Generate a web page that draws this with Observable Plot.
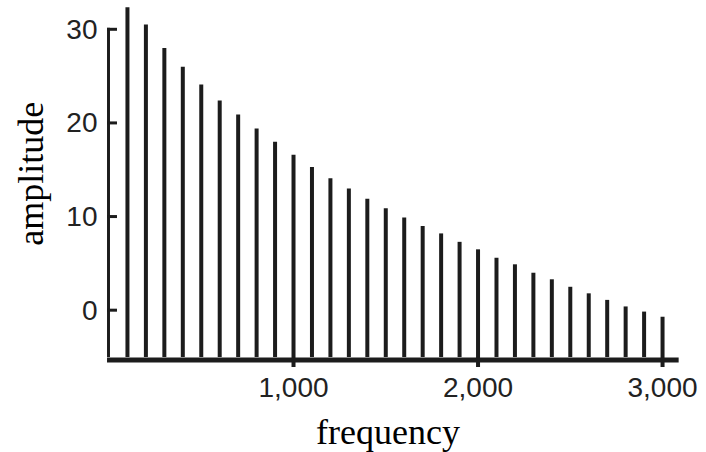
<!DOCTYPE html>
<html><head><meta charset="utf-8">
<script src="https://cdn.jsdelivr.net/npm/d3@7"></script>
<script src="https://cdn.jsdelivr.net/npm/@observablehq/plot@0.6"></script>
<style>body{margin:0;background:#fff;}</style>
</head><body><div id="chart"></div>
<script>
const frequency = [100,200,300,400,500,600,700,800,900,1000,1100,1200,1300,1400,1500,1600,1700,1800,1900,2000,2100,2200,2300,2400,2500,2600,2700,2800,2900,3000];
const amplitude = [32.35,30.5,28.0,26.0,24.1,22.4,20.9,19.4,18.0,16.6,15.3,14.1,13.0,11.9,10.9,9.9,9.0,8.2,7.3,6.5,5.6,4.9,4.0,3.3,2.5,1.8,1.1,0.4,-0.15,-0.7];
const yTicks = [0,10,20,30];
const xTicks = [1000,2000,3000];
const xLabel = "frequency";
const yLabel = "amplitude";

const data = frequency.map((f, i) => ({frequency: f, amplitude: amplitude[i]}));
const ink = "#1c1c1c";

const chart = Plot.plot({
  width: 706, height: 452,
  marginLeft: 108.5, marginRight: 25.5, marginTop: 29.3, marginBottom: 95,
  x: {domain: [0, 3100]},
  y: {domain: [-5, 30]},
  style: {background: "#fff", color: "#222", fontFamily: "'Liberation Sans', Arial, sans-serif", fontSize: "28px"},
  marks: [
    Plot.ruleX(data, {x: "frequency", y1: -5, y2: "amplitude", stroke: ink, strokeWidth: 4}),
    Plot.axisX(xTicks, {anchor: "bottom", tickSize: 10, tickPadding: 10, strokeWidth: 4, stroke: ink, tickFormat: d3.format(","), label: null}),
    Plot.axisY(yTicks, {anchor: "left", tickSize: 0, tickPadding: 11.5, label: null}),
    // left axis line and inward ticks as filled rects
    Plot.rect([0], {x1: -8, x2: 8, y1: -5, y2: 30.16, fill: ink}),
    Plot.rect(yTicks, {x1: -8, x2: 46, y1: d => d - 0.16, y2: d => d + 0.16, fill: ink}),
    Plot.ruleY([-5], {x1: -8, x2: 3090, stroke: ink, strokeWidth: 5, dy: 2.5}),
    Plot.text([xLabel], {text: d => d, frameAnchor: "bottom", dx: -7, dy: 86, lineAnchor: "bottom", fontFamily: "'Liberation Serif', 'Times New Roman', serif", fontSize: 36, fill: "#000"}),
    Plot.text([yLabel], {text: d => d, frameAnchor: "left", textAnchor: "middle", rotate: -90, dx: -66.5, dy: -20, lineAnchor: "bottom", fontFamily: "'Liberation Serif', 'Times New Roman', serif", fontSize: 36, fill: "#000"})
  ]
});
document.getElementById("chart").appendChild(chart);
</script>
</body></html>
